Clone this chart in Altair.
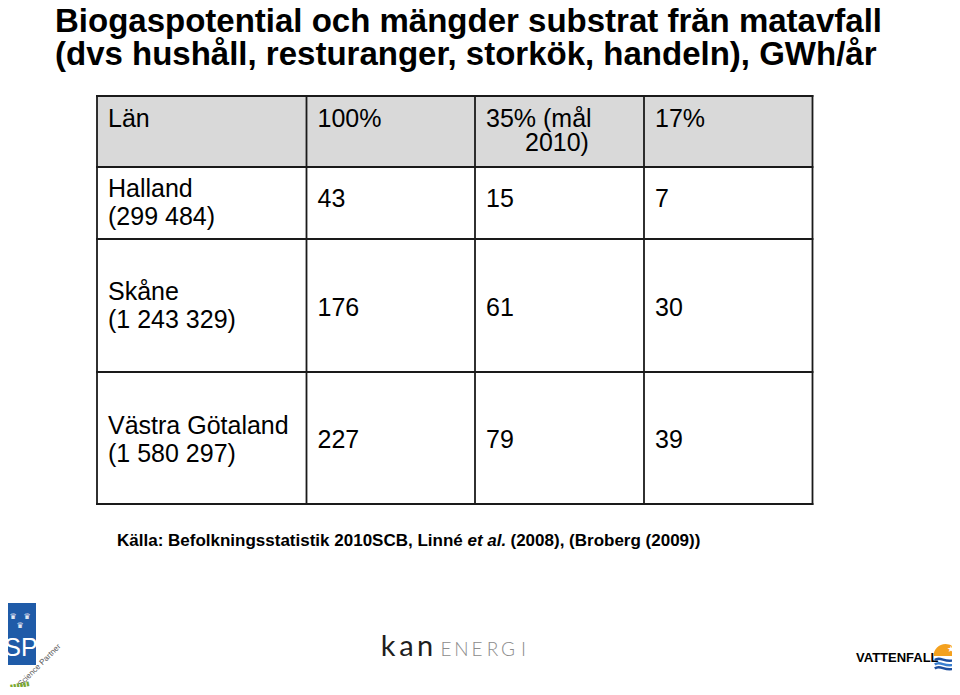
import altair as alt
import pandas as pd

# ---------------- data ----------------
title_lines = ["Biogaspotential och mängder substrat från matavfall",
               "(dvs hushåll, resturanger, storkök, handeln), GWh/år"]
header_labels = ["Län", "100%", "35% (mål 2010)", "17%"]
lan_names = ["Halland", "Skåne", "Västra Götaland"]
lan_population = ["(299 484)", "(1 243 329)", "(1 580 297)"]
potential_100 = [43, 176, 227]
potential_35 = [15, 61, 79]
potential_17 = [7, 30, 39]
source_parts = ["Källa: Befolkningsstatistik 2010SCB, Linné", "et al.", "(2008), (Broberg (2009))"]
logo_kan = ["k", "a", "n"]
logo_energi = ["E", "N", "E", "R", "G", "I"]

# ---------------- layout (page pixels) ----------------
W, H, OFF = 944, 679, 8
col_edges = [97, 306.5, 475, 644, 812.5]
row_edges = [96, 167, 239, 372, 504]
pad_x = 11
header_base = 126.5
header_wrap_x = 525
header_wrap_base = 151
label_base = [197, 300, 433.5]
line_gap = 28
value_base = [207, 316, 447.5]
title_x, title_base, title_gap = 55, 32, 33
source_x = [117, 467.5, 510.5]
source_base = 546
FONT = "Liberation Sans"

xs = alt.Scale(domain=[OFF, OFF + W], nice=False, zero=False)
ys = alt.Scale(domain=[OFF, OFF + H], nice=False, zero=False, reverse=True)


def X(f="x"):
    return alt.X(f"{f}:Q", scale=xs, axis=None)


def Y(f="y"):
    return alt.Y(f"{f}:Q", scale=ys, axis=None)


def texts(rows, size, weight="normal", style="normal", color="black",
          font=FONT, align="left", angle=0):
    return alt.Chart(pd.DataFrame(rows)).mark_text(
        align=align, baseline="alphabetic", fontSize=size, fontWeight=weight,
        fontStyle=style, color=color, font=font, angle=angle
    ).encode(x=X(), y=Y(), text=alt.Text("t:N"))


layers = []

# header background
layers.append(alt.Chart(pd.DataFrame([{
    "x": col_edges[0], "x2": col_edges[-1], "y": row_edges[0], "y2": row_edges[1]}])
).mark_rect(color="#d9d9d9").encode(x=X(), x2="x2:Q", y=Y(), y2="y2:Q"))

# grid lines
vlines = pd.DataFrame([{"x": c, "y": row_edges[0], "y2": row_edges[-1]} for c in col_edges])
hlines = pd.DataFrame([{"x": col_edges[0], "x2": col_edges[-1], "y": r} for r in row_edges])
layers.append(alt.Chart(vlines).mark_rule(color="#1a1a1a", strokeWidth=1.8, strokeCap="square")
              .encode(x=X(), y=Y(), y2="y2:Q"))
layers.append(alt.Chart(hlines).mark_rule(color="#1a1a1a", strokeWidth=1.8, strokeCap="square")
              .encode(x=X(), x2="x2:Q", y=Y()))

# title
layers.append(texts([{"t": t, "x": title_x, "y": title_base + i * title_gap}
                     for i, t in enumerate(title_lines)], 33, weight="bold"))

# header row
hdr = []
for i, lab in enumerate(header_labels):
    if lab.startswith("35%"):
        first, second = lab.rsplit(" ", 1)
        hdr.append({"t": first, "x": col_edges[i] + pad_x, "y": header_base})
        hdr.append({"t": second, "x": header_wrap_x, "y": header_wrap_base})
    else:
        hdr.append({"t": lab, "x": col_edges[i] + pad_x, "y": header_base})
layers.append(texts(hdr, 25))

# body rows
body = []
for r in range(len(lan_names)):
    body.append({"t": lan_names[r], "x": col_edges[0] + pad_x, "y": label_base[r]})
    body.append({"t": lan_population[r], "x": col_edges[0] + pad_x, "y": label_base[r] + line_gap})
    for c, series in enumerate([potential_100, potential_35, potential_17]):
        body.append({"t": str(series[r]), "x": col_edges[c + 1] + pad_x, "y": value_base[r]})
layers.append(texts(body, 25))

# source line
layers.append(texts([{"t": source_parts[0], "x": source_x[0], "y": source_base},
                     {"t": source_parts[2], "x": source_x[2], "y": source_base}], 17, weight="bold"))
layers.append(texts([{"t": source_parts[1], "x": source_x[1], "y": source_base}], 17,
                    weight="bold", style="italic"))

# ---------------- logos ----------------
# SP
layers.append(alt.Chart(pd.DataFrame([{"x": 8, "x2": 36, "y": 603, "y2": 665}]))
              .mark_rect(color="#1f5ba8").encode(x=X(), x2="x2:Q", y=Y(), y2="y2:Q"))
layers.append(texts([{"t": "♛", "x": 13, "y": 619}, {"t": "♛", "x": 27, "y": 619},
                     {"t": "♛", "x": 20, "y": 628}], 8, color="white", font="DejaVu Sans",
                    align="center"))
layers.append(texts([{"t": "SP", "x": 21, "y": 656}], 25, color="white", align="center",
                    font="Liberation Sans Narrow, Liberation Sans"))
layers.append(texts([{"t": "Science Partner", "x": 41, "y": 667}], 8, color="#555",
                    align="center", angle=315))
layers.append(texts([{"t": "▮▮▮▮▮▮", "x": 20, "y": 687}], 6, color="#7aa832",
                    align="center", angle=350, font="DejaVu Sans"))

# Kanenergi (letter by letter, wide logo spacing)
kan_x0, kan_step = 388, 18.5
en_x0, en_step = 446, 15.5
layers.append(texts([{"t": ch, "x": kan_x0 + i * kan_step, "y": 656} for i, ch in enumerate(logo_kan)],
                    29, weight=400, color="#1e1e1e", font="Lato", align="center"))
layers.append(texts([{"t": ch, "x": en_x0 + i * en_step, "y": 656} for i, ch in enumerate(logo_energi)],
                    19, weight=300, color="#8c8c8c", font="Lato", align="center"))

# Vattenfall
layers.append(texts([{"t": "VATTENFALL", "x": 856, "y": 662}], 13, weight="bold",
                    font="Liberation Sans Narrow, Liberation Sans"))
layers.append(alt.Chart(pd.DataFrame([{"x": 945.5, "y": 656}])).mark_point(
    shape="M -1 0 A 1 1 0 0 1 1 0 Z", size=576, filled=True, opacity=1,
    color="#f4a11e", strokeWidth=0).encode(x=X(), y=Y()))
layers.append(texts([{"t": "★", "x": 951, "y": 652}], 9, color="white",
                    font="DejaVu Sans", align="center"))
waves = pd.DataFrame([{"x": 946, "y": 660, "c": "#1e4f9e"},
                      {"x": 946, "y": 664.5, "c": "#3a7fd0"},
                      {"x": 946, "y": 668.5, "c": "#1e4f9e"}])
layers.append(alt.Chart(waves).mark_point(
    shape="M -1 0 C -0.5 -0.45 0 0.45 1 -0.1", size=500, filled=False, opacity=1,
    strokeWidth=2.4).encode(x=X(), y=Y(), stroke=alt.Stroke("c:N", scale=None)))

chart = alt.layer(*layers).properties(
    width=W, height=H, padding=0, autosize=alt.AutoSizeParams(type="none"),
    background="white"
).configure_view(stroke=None)

chart.save("out.html", embed_options={"renderer": "svg", "actions": False})
